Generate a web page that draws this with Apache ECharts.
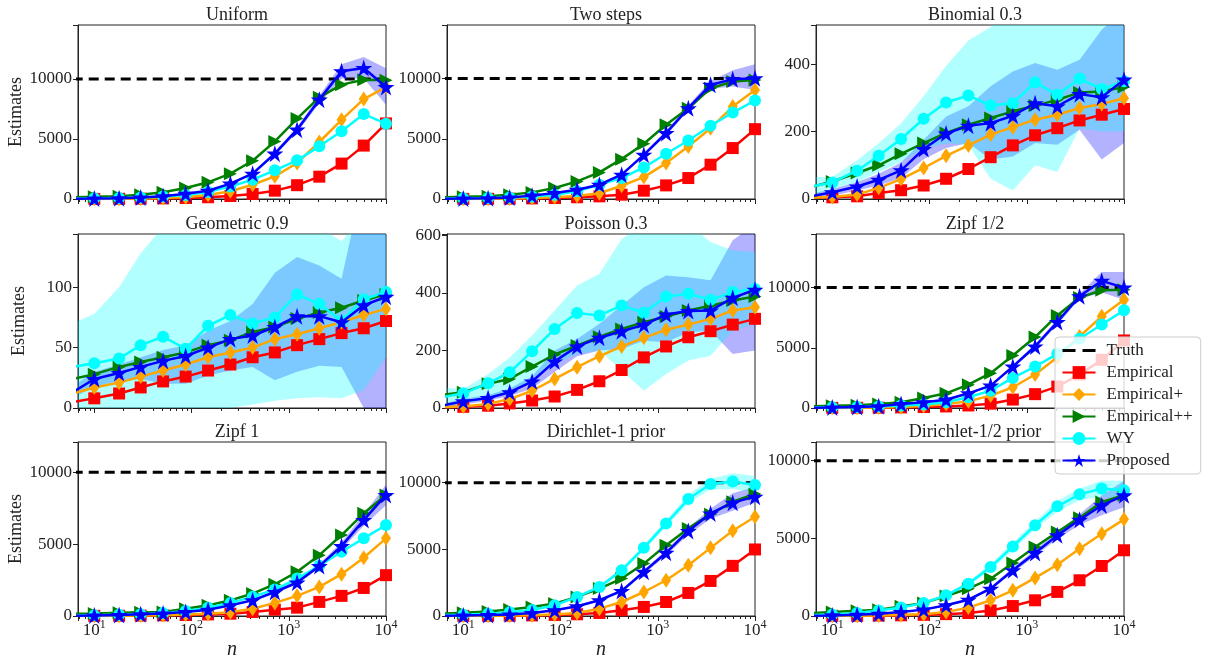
<!DOCTYPE html>
<html>
<head>
<meta charset="UTF-8">
<title>Estimates vs n</title>
<script src="https://cdn.jsdelivr.net/npm/echarts@6/dist/echarts.min.js"></script>
</head>
<body style="margin:0">
<div id="container" style="width:1214px;height:662px;background:#fff"></div>
<script>
  // sample sizes (log spaced)
  var n = [6, 10, 18, 30, 51, 87, 148, 251, 425, 719, 1218, 2061, 3490, 5902, 10000];
  var minorTicks = [7, 8, 9, 20, 30, 40, 50, 60, 70, 80, 90, 200, 300, 400, 500, 600, 700, 800, 900,
    2000, 3000, 4000, 5000, 6000, 7000, 8000, 9000];

  var titles = ['Uniform', 'Two steps', 'Binomial 0.3', 'Geometric 0.9', 'Poisson 0.3', 'Zipf 1/2',
    'Zipf 1', 'Dirichlet-1 prior', 'Dirichlet-1/2 prior'];
  var yMax = [14500, 14450, 516, 144, 605, 14450, 12100, 13050, 11200];
  var yStep = [5000, 5000, 200, 50, 200, 5000, 5000, 5000, 5000];
  var truth = [10000, 10000, null, null, null, 10000, 10000, 10000, 10000];

  // Uniform
  var uniEmp = [6, 10, 18, 30, 51, 87, 147, 248, 415, 695, 1150, 1860, 2950, 4450, 6300];
  var uniEmpP = [8, 14, 26, 45, 80, 150, 330, 640, 1190, 1890, 3000, 4750, 6600, 8330, 9330];
  var uniEmpPP = [150, 180, 220, 360, 555, 920, 1390, 2110, 3190, 4800, 6700, 8470, 9530, 9940, 9890];
  var uniWY = [40, 60, 90, 130, 200, 330, 580, 1050, 1610, 2390, 3220, 4390, 5640, 7080, 6280];
  var uniProp = [20, 40, 70, 120, 220, 440, 690, 1280, 2110, 3780, 5780, 8280, 10640, 10920, 9330];
  var uniPropLo = [10, 30, 60, 100, 190, 400, 630, 1200, 2000, 3600, 5550, 7950, 10050, 10050, 7850];
  var uniPropHi = [30, 50, 80, 140, 250, 480, 750, 1360, 2220, 3960, 6010, 8610, 11230, 11830, 10900];

  // Two steps
  var twoEmp = [6, 10, 18, 30, 50, 85, 145, 220, 360, 690, 1130, 1740, 2850, 4230, 5800];
  var twoEmpP = [8, 14, 25, 45, 80, 140, 250, 480, 1100, 1820, 2980, 4360, 5880, 7680, 9060];
  var twoEmpPP = [150, 180, 220, 360, 550, 910, 1460, 2210, 3310, 4590, 6160, 7540, 9200, 9750, 9890];
  var twoWY = [40, 60, 90, 130, 200, 360, 640, 1190, 1740, 2620, 3760, 4860, 6080, 7180, 8180];
  var twoProp = [20, 40, 70, 120, 280, 500, 770, 1190, 2020, 3670, 5470, 7540, 9480, 9950, 10030];
  var twoPropLo = [10, 30, 60, 100, 250, 460, 720, 1120, 1920, 3520, 5270, 7300, 9150, 9350, 9050];
  var twoPropHi = [30, 50, 80, 140, 310, 540, 820, 1260, 2120, 3820, 5670, 7780, 9800, 10700, 11200];

  // Binomial 0.3
  var binEmp = [4, 5, 8, 18, 26, 40, 60, 89, 124, 159, 189, 210, 233, 250, 267];
  var binEmpP = [4, 6, 13, 33, 59, 92, 128, 159, 191, 213, 235, 250, 270, 282, 299];
  var binEmpPP = [35, 52, 77, 100, 134, 166, 196, 220, 240, 260, 277, 294, 316, 319, 332];
  var binWY = [37, 49, 84, 128, 178, 238, 286, 307, 277, 284, 346, 309, 357, 326, 349];
  var binProp = [8, 20, 37, 57, 85, 148, 194, 217, 225, 247, 284, 275, 311, 302, 354];
  var binWYLo = [10, 30, 50, 80, 110, 150, 165, 160, 60, 25, 100, 80, 210, 200, 200];
  var binWYHi = [65, 65, 115, 165, 225, 305, 395, 470, 510, 560, 580, 580, 560, 530, 520];
  var binPropLo = [0, 10, 25, 40, 62, 118, 151, 166, 117, 126, 166, 161, 205, 117, 166];
  var binPropHi = [15, 30, 50, 75, 108, 176, 245, 275, 334, 378, 403, 383, 413, 502, 560];

  // Geometric 0.9
  var geoEmp = [5, 8, 12, 17, 22, 26, 31, 36, 42, 46, 52, 57, 62, 66, 72];
  var geoEmpP = [12, 17, 21, 26, 31, 36, 42, 46, 50, 57, 61, 66, 71, 77, 82];
  var geoEmpPP = [24, 28, 34, 38, 42, 46, 52, 56, 63, 67, 74, 79, 83, 89, 94];
  var geoWY = [34, 37, 41, 52, 59, 49, 68, 77, 70, 75, 94, 86, 72, 90, 96];
  var geoProp = [13, 24, 29, 34, 39, 43, 50, 57, 60, 67, 76, 76, 71, 85, 92];
  var geoWYLo = [0, 0, -5, -10, -10, -10, -5, 0, 3, 6, 8, 9, 8, 15, 42];
  var geoWYHi = [70, 78, 100, 128, 150, 165, 170, 170, 170, 165, 160, 150, 138, 160, 170];
  var geoPropLo = [8, 18, 22, 24, 20, 20, 27, 31, 34, 23, 30, 35, 34, 0, -20];
  var geoPropHi = [18, 30, 36, 42, 48, 52, 64, 72, 86, 112, 125, 118, 107, 190, 200];

  // Poisson 0.3
  var poiEmp = [2, 4, 8, 16, 26, 40, 63, 93, 132, 176, 214, 246, 267, 290, 310];
  var poiEmpP = [3, 5, 14, 31, 60, 101, 142, 180, 214, 244, 272, 290, 310, 339, 350];
  var poiEmpPP = [45, 55, 84, 101, 144, 186, 217, 248, 275, 298, 318, 339, 356, 374, 388];
  var poiWY = [37, 51, 86, 124, 197, 275, 330, 322, 356, 331, 388, 397, 376, 403, 414];
  var poiProp = [8, 23, 35, 55, 92, 162, 214, 244, 267, 289, 325, 337, 339, 383, 411];
  var poiWYLo = [2, 14, 31, 55, 95, 153, 188, 200, 130, 60, 118, 165, 182, 269, 292];
  var poiWYHi = [72, 66, 118, 176, 252, 339, 426, 467, 588, 640, 650, 640, 577, 548, 542];
  var poiPropLo = [0, 12, 25, 42, 68, 125, 180, 200, 205, 234, 229, 263, 269, 188, 200];
  var poiPropHi = [15, 32, 45, 68, 110, 200, 240, 293, 356, 420, 461, 455, 444, 583, 640];

  // Zipf 1/2
  var zhEmp = [6, 10, 18, 29, 48, 80, 130, 210, 360, 700, 1150, 1780, 2780, 4000, 5610];
  var zhEmpP = [7, 12, 22, 40, 80, 170, 330, 560, 1030, 1720, 2780, 4220, 5940, 7610, 9000];
  var zhEmpPP = [150, 180, 230, 330, 470, 830, 1220, 1940, 2890, 4360, 5890, 7690, 9170, 9780, 9830];
  var zhWY = [40, 60, 90, 130, 200, 300, 470, 890, 1440, 2500, 3440, 4500, 5750, 6940, 8110];
  var zhProp = [20, 40, 80, 150, 330, 470, 690, 1220, 1860, 3440, 5110, 7140, 9280, 10560, 10000];
  var zhPropLo = [10, 30, 70, 130, 300, 430, 640, 1150, 1760, 3300, 4900, 6900, 9050, 9600, 9000];
  var zhPropHi = [30, 50, 90, 170, 360, 510, 740, 1290, 1960, 3580, 5320, 7380, 9510, 11300, 11300];

  // Zipf 1
  var z1Emp = [6, 10, 17, 28, 45, 70, 110, 160, 280, 440, 580, 980, 1400, 1950, 2840];
  var z1EmpP = [7, 12, 20, 35, 60, 100, 150, 260, 510, 910, 1400, 2020, 2910, 4050, 5400];
  var z1EmpPP = [150, 180, 220, 260, 280, 510, 740, 1090, 1560, 2210, 3070, 4230, 5630, 7140, 8420];
  var z1WY = [40, 60, 90, 130, 200, 350, 580, 910, 1330, 1840, 2600, 3490, 4470, 5400, 6330];
  var z1Prop = [20, 40, 70, 120, 180, 280, 440, 740, 1090, 1670, 2330, 3470, 4860, 6670, 8420];
  var z1PropLo = [10, 30, 60, 100, 160, 250, 400, 690, 1020, 1570, 2200, 3300, 4600, 6270, 7700];
  var z1PropHi = [30, 50, 80, 140, 200, 310, 480, 790, 1160, 1770, 2460, 3640, 5120, 7070, 9150];

  // Dirichlet-1 prior
  var d1Emp = [6, 10, 17, 28, 46, 80, 130, 230, 430, 680, 1050, 1730, 2630, 3760, 4990];
  var d1EmpP = [7, 12, 20, 33, 60, 120, 230, 550, 1050, 1800, 2680, 3810, 5110, 6390, 7440];
  var d1EmpPP = [180, 250, 330, 480, 680, 930, 1430, 2060, 2810, 3930, 5310, 6570, 7640, 8570, 9150];
  var d1WY = [60, 100, 170, 280, 450, 800, 1430, 2180, 3430, 5110, 6940, 8770, 9900, 10080, 9820];
  var d1Prop = [20, 40, 70, 120, 230, 430, 730, 1180, 1880, 3310, 4740, 6370, 7690, 8500, 8950];
  var d1WYLo = [50, 90, 155, 260, 420, 760, 1360, 2080, 3280, 4900, 6700, 8450, 9500, 9500, 9300];
  var d1WYHi = [70, 110, 185, 300, 480, 840, 1500, 2280, 3580, 5320, 7180, 9090, 10300, 10700, 10500];
  var d1PropLo = [10, 30, 60, 100, 200, 390, 680, 1110, 1780, 3150, 4540, 6100, 7300, 7900, 8500];
  var d1PropHi = [30, 50, 80, 140, 260, 470, 780, 1250, 1980, 3470, 4940, 6640, 8050, 9200, 9700];

  // Dirichlet-1/2 prior
  var dhEmp = [6, 10, 17, 28, 45, 75, 120, 190, 360, 640, 1010, 1550, 2300, 3220, 4230];
  var dhEmpP = [7, 12, 20, 33, 60, 120, 260, 540, 1010, 1650, 2450, 3300, 4330, 5300, 6220];
  var dhEmpPP = [180, 250, 330, 410, 620, 840, 1290, 1760, 2400, 3410, 4440, 5410, 6330, 7340, 7770];
  var dhWY = [60, 100, 200, 360, 540, 840, 1330, 2080, 3150, 4480, 5840, 7060, 7830, 8200, 8100];
  var dhProp = [20, 40, 80, 150, 260, 410, 690, 1050, 1760, 2940, 4060, 5190, 6200, 7120, 7770];
  var dhWYLo = [50, 90, 180, 330, 500, 790, 1250, 1960, 2950, 4230, 5590, 6710, 7450, 7700, 7500];
  var dhWYHi = [70, 110, 220, 390, 580, 890, 1410, 2200, 3350, 4730, 6090, 7410, 8210, 8700, 8700];
  var dhPropLo = [10, 30, 70, 130, 230, 380, 640, 980, 1660, 2780, 3860, 4950, 5850, 6480, 7000];
  var dhPropHi = [30, 50, 90, 170, 290, 440, 740, 1120, 1860, 3100, 4260, 5430, 6550, 7770, 8700];

  // per panel: [lines...], wy band, proposed band
  var panels = [
    [[uniEmp, uniEmpP, uniEmpPP, uniWY, uniProp], null, [uniPropLo, uniPropHi]],
    [[twoEmp, twoEmpP, twoEmpPP, twoWY, twoProp], null, [twoPropLo, twoPropHi]],
    [[binEmp, binEmpP, binEmpPP, binWY, binProp], [binWYLo, binWYHi], [binPropLo, binPropHi]],
    [[geoEmp, geoEmpP, geoEmpPP, geoWY, geoProp], [geoWYLo, geoWYHi], [geoPropLo, geoPropHi]],
    [[poiEmp, poiEmpP, poiEmpPP, poiWY, poiProp], [poiWYLo, poiWYHi], [poiPropLo, poiPropHi]],
    [[zhEmp, zhEmpP, zhEmpPP, zhWY, zhProp], null, [zhPropLo, zhPropHi]],
    [[z1Emp, z1EmpP, z1EmpPP, z1WY, z1Prop], null, [z1PropLo, z1PropHi]],
    [[d1Emp, d1EmpP, d1EmpPP, d1WY, d1Prop], [d1WYLo, d1WYHi], [d1PropLo, d1PropHi]],
    [[dhEmp, dhEmpP, dhEmpPP, dhWY, dhProp], [dhWYLo, dhWYHi], [dhPropLo, dhPropHi]]
  ];

  var names = ['Empirical', 'Empirical+', 'Empirical++', 'WY', 'Proposed'];
  var colors = ['#ff0000', '#ffa500', '#008000', '#00ffff', '#0000ff'];
  var starPath = 'path://M0,-100L22,-31L95,-31L36,12L59,81L0,38L-59,81L-36,12L-95,-31L-22,-31Z';
  var symbols = ['rect', 'diamond', 'path://M0,0L10,5L0,10Z', 'circle', starPath];
  var sizes = [12, [10, 15], 13, 12, 17];

  var FONT = 'Liberation Serif';
  var INK = '#222';
  var colLeft = [78, 447, 816], rowTop = [25, 234, 442], gw = 308, gh = 174;
  var xMin = 6.8;

  var dom = document.getElementById('container');
  var myChart = echarts.init(dom, null, {renderer: 'canvas'});

  var grid = [], xAxis = [], yAxis = [], title = [], series = [];

  function pairs(vals) {
    return n.map(function (x, k) { return [x, vals[k]]; });
  }

  // shaded band between lo and hi, one polygon clipped to the grid
  function band(g, lohi, color) {
    var lo = lohi[0], hi = lohi[1];
    series.push({
      type: 'custom', xAxisIndex: 2 * g, yAxisIndex: g, silent: true, z: 1,
      data: n.map(function (x, k) { return [x, lo[k], hi[k]]; }),
      encode: {x: 0, y: [1, 2]},
      renderItem: function (params, api) {
        if (params.dataIndex !== 0) return null;
        var pts = [], k;
        for (k = 0; k < n.length; k++) pts.push(api.coord([n[k], hi[k]]));
        for (k = n.length - 1; k >= 0; k--) pts.push(api.coord([n[k], lo[k]]));
        var cs = params.coordSys;
        return {
          type: 'polygon', shape: {points: pts}, style: {fill: color},
          clipPath: {type: 'rect', shape: {x: cs.x, y: cs.y, width: cs.width, height: cs.height}}
        };
      }
    });
  }

  for (var g = 0; g < 9; g++) {
    var r = Math.floor(g / 3), c = g % 3;
    var step = yStep[g];
    grid.push({
      left: colLeft[c], top: rowTop[r], width: gw, height: gh,
      show: true, borderColor: INK, borderWidth: 1, outerBoundsMode: 'none'
    });
    title.push({
      text: titles[g], left: colLeft[c] + gw / 2, top: rowTop[r] - 24, textAlign: 'center',
      textStyle: {fontFamily: FONT, fontSize: 18, fontWeight: 'normal', color: INK}
    });
    xAxis.push({
      type: 'log', logBase: 10, gridIndex: g, min: xMin, max: 10000, position: 'bottom',
      axisLine: {show: true, lineStyle: {color: INK}},
      axisTick: {show: true, length: 5, lineStyle: {color: INK}},
      splitLine: {show: false},
      axisLabel: {
        show: r === 2, margin: 3,
        formatter: function (v) {
          var e = Math.round(Math.log10(v));
          if (Math.abs(Math.log10(v) - e) > 1e-6) return '';
          return '{b|10}{e|' + e + '}';
        },
        rich: {
          b: {fontFamily: FONT, fontSize: 17, color: INK, lineHeight: 20, verticalAlign: 'bottom'},
          e: {fontFamily: FONT, fontSize: 12, color: INK, lineHeight: 20, verticalAlign: 'top'}
        }
      },
      name: r === 2 ? 'n' : '', nameLocation: 'middle', nameGap: 22,
      nameTextStyle: {fontFamily: FONT, fontStyle: 'italic', fontSize: 20, color: INK}
    });
    // minor ticks of the log axis, on a companion axis in log10 units
    xAxis.push({
      type: 'value', gridIndex: g, min: Math.log10(xMin), max: 4, position: 'bottom',
      axisLine: {show: false}, axisLabel: {show: false}, splitLine: {show: false},
      axisTick: {show: true, length: 3, customValues: minorTicks.map(Math.log10), lineStyle: {color: INK}}
    });
    yAxis.push({
      type: 'value', gridIndex: g, min: 0, max: yMax[g], interval: step,
      axisLine: {show: true, lineStyle: {color: INK}},
      axisTick: {show: true, length: 5, lineStyle: {color: INK}},
      splitLine: {show: false},
      axisLabel: {
        fontFamily: FONT, fontSize: 17, color: INK, margin: 6,
        formatter: (function (s) { return function (v) { return v % s === 0 ? String(v) : ''; }; })(step)
      },
      name: c === 0 ? 'Estimates' : '', nameLocation: 'middle', nameGap: 50,
      nameTextStyle: {fontFamily: FONT, fontSize: 18, color: INK}
    });

    var p = panels[g];
    band(g, p[2], 'rgba(0,0,255,0.3)');
    if (p[1]) band(g, p[1], 'rgba(0,255,255,0.3)');

    if (truth[g] !== null) {
      series.push({
        name: 'Truth', type: 'line', xAxisIndex: 2 * g, yAxisIndex: g,
        data: n.map(function (x) { return [x, truth[g]]; }),
        symbol: 'none', color: '#000',
        lineStyle: {color: '#000', width: 3, type: [10, 6]}, z: 2
      });
    }
    for (var s = 0; s < 5; s++) {
      series.push({
        name: names[s], type: 'line', xAxisIndex: 2 * g, yAxisIndex: g,
        data: pairs(p[0][s]),
        symbol: symbols[s], symbolSize: sizes[s], color: colors[s],
        itemStyle: {color: colors[s]},
        lineStyle: {color: colors[s], width: 2.5}, z: 3 + s
      });
    }
  }

  var option = {
    animation: false,
    backgroundColor: '#fff',
    title: title,
    grid: grid,
    xAxis: xAxis,
    yAxis: yAxis,
    legend: {
      data: [{
        name: 'Truth', itemStyle: {opacity: 0},
        lineStyle: {color: '#000', width: 3, type: [13, 7]}
      }].concat(names),
      orient: 'vertical', left: 1055, top: 337,
      padding: [5, 8, 5, 6], itemGap: 5, itemWidth: 33, itemHeight: 16,
      backgroundColor: 'rgba(255,255,255,0.8)', borderColor: '#ccc', borderWidth: 1, borderRadius: 4,
      selectedMode: false, z: 20,
      textStyle: {fontFamily: FONT, fontSize: 17, color: INK, padding: [0, 0, 0, 6]}
    },
    series: series
  };
  myChart.setOption(option);

  window.addEventListener('resize', myChart.resize);
</script>
</body>
</html>
